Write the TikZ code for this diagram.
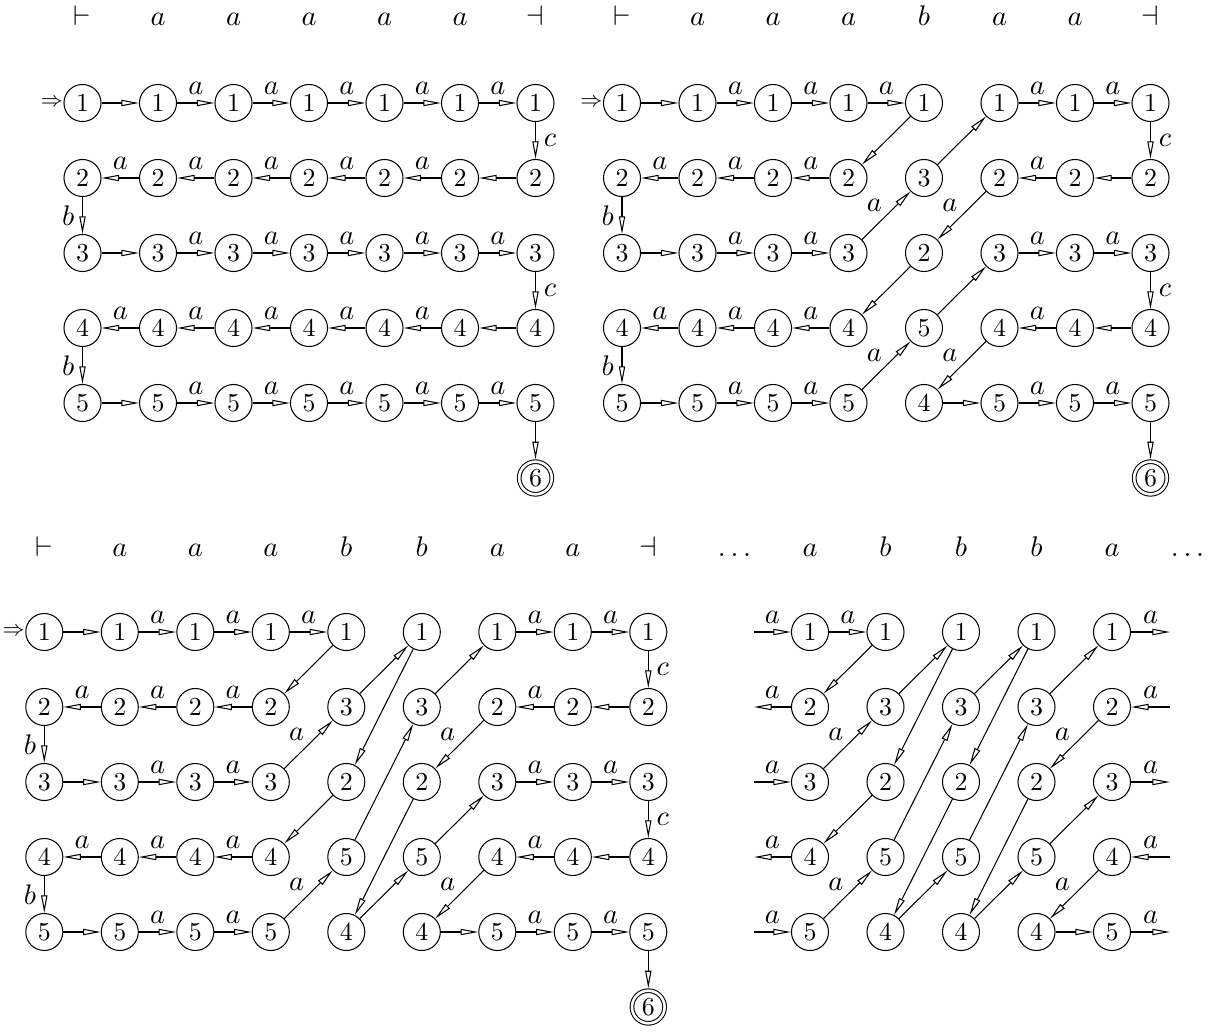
\documentclass[tikz,border=0pt]{standalone}
\usetikzlibrary{arrows.meta}
\newcommand\prow[5]{\foreach \vv [count=\k] in {#5} {\node[st] (#1-#2-\k) at ({#4+(\k-1)*75.5},#3) {$\vv$};}}
\newcommand\tline[4]{\foreach \vv [count=\k] in {#4} {\node[toplab] (#1-t\k) at ({#2+(\k-1)*75.5},#3) {$\vv$};}}
\newcommand\eN[2]{\draw[tr] (#1) -- (#2);}
\newcommand\eA[2]{\draw[tr] (#1) -- node[lab,above]{$a$} (#2);}
\newcommand\eD[2]{\draw[tr] (#1) -- node[dlab]{$a$} (#2);}
\newcommand\chR[4]{\foreach \k in {#3,...,#4} {\pgfmathtruncatemacro\jj{\k+1}\eA{#1-#2-\k}{#1-#2-\jj}}}
\newcommand\chL[4]{\foreach \k in {#3,...,#4} {\pgfmathtruncatemacro\jj{\k+1}\eA{#1-#2-\jj}{#1-#2-\k}}}
\newcommand\eV[3]{\draw[tr] (#1) -- node[lab,#3]{$#3$} (#2);}
\begin{document}
\begin{tikzpicture}[x=0.386pt, y=-0.386pt,
  st/.style={circle, draw, line width=0.4pt, minimum size=14.3pt, inner sep=0pt, font=\fontsize{10}{12}\selectfont},
  fin/.style={circle, draw, line width=0.4pt, double, double distance=1pt, minimum size=12.6pt, inner sep=0pt, outer sep=0.9pt, font=\fontsize{10}{12}\selectfont},
  tr/.style={line width=0.4pt, -{Triangle[open, length=6.8pt, width=2.4pt]}},
  lab/.style={font=\fontsize{11}{13}\selectfont, inner sep=3pt},
  dlab/.style={font=\fontsize{11}{13}\selectfont, inner sep=1.5pt, above left},
  toplab/.style={anchor=base, font=\fontsize{11}{13}\selectfont, inner sep=0pt},
  inarr/.style={anchor=east, inner sep=0pt, font=\fontsize{8}{9}\selectfont},
  c/.style={right}, b/.style={left}
]
\useasboundingbox (0,0) rectangle (1223,1035);

% ---------- top labels ----------
\tline{a}{82.5}{25}{\vdash,a,a,a,a,a,\dashv}
\tline{b}{622}{25}{\vdash,a,a,a,b,a,a,\dashv}
\tline{c}{44.3}{556}{\vdash,a,a,a,b,b,a,a,\dashv}
\tline{d}{734.5}{556}{\ldots,a,b,b,b,a,\ldots}

% ---------- panel 1 ----------
\prow{a}{1}{103}{82.5}{1,1,1,1,1,1,1}
\prow{a}{2}{178}{82.5}{2,2,2,2,2,2,2}
\prow{a}{3}{253}{82.5}{3,3,3,3,3,3,3}
\prow{a}{4}{328}{82.5}{4,4,4,4,4,4,4}
\prow{a}{5}{403}{82.5}{5,5,5,5,5,5,5}
\node[fin] (a-6) at (535.5,478) {$6$};
\node[inarr] (a-in) at (a-1-1.west) {$\Rightarrow$};
\eN{a-1-1}{a-1-2} \chR{a}{1}{2}{6}
\draw[tr] (a-1-7) -- node[lab,right]{$c$} (a-2-7);
\eN{a-2-7}{a-2-6} \chL{a}{2}{1}{5}
\draw[tr] (a-2-1) -- node[lab,left]{$b$} (a-3-1);
\eN{a-3-1}{a-3-2} \chR{a}{3}{2}{6}
\draw[tr] (a-3-7) -- node[lab,right]{$c$} (a-4-7);
\eN{a-4-7}{a-4-6} \chL{a}{4}{1}{5}
\draw[tr] (a-4-1) -- node[lab,left]{$b$} (a-5-1);
\eN{a-5-1}{a-5-2} \chR{a}{5}{2}{6}
\eN{a-5-7}{a-6}

% ---------- panel 2 ----------
\prow{b}{1}{103}{622}{1,1,1,1,1,1,1,1}
\prow{b}{2}{178}{622}{2,2,2,2,3,2,2,2}
\prow{b}{3}{253}{622}{3,3,3,3,2,3,3,3}
\prow{b}{4}{328}{622}{4,4,4,4,5,4,4,4}
\prow{b}{5}{403}{622}{5,5,5,5,4,5,5,5}
\node[fin] (b-6) at (1150.5,478) {$6$};
\node[inarr] (b-in) at (b-1-1.west) {$\Rightarrow$};
\eN{b-1-1}{b-1-2} \chR{b}{1}{2}{4} \chR{b}{1}{6}{7}
\eN{b-1-5}{b-2-4} \eN{b-2-5}{b-1-6}
\draw[tr] (b-1-8) -- node[lab,right]{$c$} (b-2-8);
\chL{b}{2}{1}{3} \eN{b-2-8}{b-2-7} \chL{b}{2}{6}{6}
\draw[tr] (b-2-1) -- node[lab,left]{$b$} (b-3-1);
\eN{b-3-1}{b-3-2} \chR{b}{3}{2}{3} \chR{b}{3}{6}{7}
\eD{b-3-4}{b-2-5} \eD{b-2-6}{b-3-5}
\eN{b-3-5}{b-4-4} \eN{b-4-5}{b-3-6}
\draw[tr] (b-3-8) -- node[lab,right]{$c$} (b-4-8);
\chL{b}{4}{1}{3} \eN{b-4-8}{b-4-7} \chL{b}{4}{6}{6}
\draw[tr] (b-4-1) -- node[lab,left]{$b$} (b-5-1);
\eN{b-5-1}{b-5-2} \chR{b}{5}{2}{3} \eN{b-5-5}{b-5-6} \chR{b}{5}{6}{7}
\eD{b-5-4}{b-4-5} \eD{b-4-6}{b-5-5}
\eN{b-5-8}{b-6}

% ---------- panel 3 ----------
\prow{c}{1}{632}{44.3}{1,1,1,1,1,1,1,1,1}
\prow{c}{2}{707}{44.3}{2,2,2,2,3,3,2,2,2}
\prow{c}{3}{782}{44.3}{3,3,3,3,2,2,3,3,3}
\prow{c}{4}{857}{44.3}{4,4,4,4,5,5,4,4,4}
\prow{c}{5}{932}{44.3}{5,5,5,5,4,4,5,5,5}
\node[fin] (c-6) at (648.3,1007) {$6$};
\node[inarr] (c-in) at (c-1-1.west) {$\Rightarrow$};
\eN{c-1-1}{c-1-2} \chR{c}{1}{2}{4} \chR{c}{1}{7}{8}
\eN{c-1-5}{c-2-4} \eN{c-2-5}{c-1-6} \eN{c-1-6}{c-3-5} \eN{c-2-6}{c-1-7}
\draw[tr] (c-1-9) -- node[lab,right]{$c$} (c-2-9);
\chL{c}{2}{1}{3} \eN{c-2-9}{c-2-8} \chL{c}{2}{7}{7}
\draw[tr] (c-2-1) -- node[lab,left]{$b$} (c-3-1);
\eN{c-3-1}{c-3-2} \chR{c}{3}{2}{3} \chR{c}{3}{7}{8}
\eD{c-3-4}{c-2-5} \eD{c-2-7}{c-3-6}
\eN{c-3-5}{c-4-4} \eN{c-4-5}{c-2-6} \eN{c-3-6}{c-5-5} \eN{c-4-6}{c-3-7}
\draw[tr] (c-3-9) -- node[lab,right]{$c$} (c-4-9);
\chL{c}{4}{1}{3} \eN{c-4-9}{c-4-8} \chL{c}{4}{7}{7}
\draw[tr] (c-4-1) -- node[lab,left]{$b$} (c-5-1);
\eN{c-5-1}{c-5-2} \chR{c}{5}{2}{3} \eN{c-5-6}{c-5-7} \chR{c}{5}{7}{8}
\eD{c-5-4}{c-4-5} \eN{c-5-5}{c-4-6} \eD{c-4-7}{c-5-6}
\eN{c-5-9}{c-6}

% ---------- panel 4 ----------
\prow{d}{1}{632}{810}{1,1,1,1,1}
\prow{d}{2}{707}{810}{2,3,3,3,2}
\prow{d}{3}{782}{810}{3,2,2,2,3}
\prow{d}{4}{857}{810}{4,5,5,5,4}
\prow{d}{5}{932}{810}{5,4,4,4,5}
\foreach \r/\yy in {1/632,2/707,3/782,4/857,5/932} {
  \coordinate (dL\r) at (754,\yy);
  \coordinate (dR\r) at (1170,\yy);
}
\eA{dL1}{d-1-1} \chR{d}{1}{1}{1}
\eN{d-1-2}{d-2-1} \eN{d-2-2}{d-1-3} \eN{d-1-3}{d-3-2}
\eN{d-2-3}{d-1-4} \eN{d-1-4}{d-3-3} \eN{d-2-4}{d-1-5}
\eA{d-1-5}{dR1}
\eA{d-2-1}{dL2} \eA{dR2}{d-2-5} \eD{d-2-5}{d-3-4}
\eA{dL3}{d-3-1} \eD{d-3-1}{d-2-2} \eN{d-3-2}{d-4-1}
\eN{d-3-3}{d-5-2} \eN{d-3-4}{d-5-3} \eA{d-3-5}{dR3}
\eA{d-4-1}{dL4} \eN{d-4-2}{d-2-3} \eN{d-4-3}{d-2-4} \eN{d-4-4}{d-3-5}
\eA{dR4}{d-4-5} \eD{d-4-5}{d-5-4}
\eA{dL5}{d-5-1} \eD{d-5-1}{d-4-2} \eN{d-5-2}{d-4-3} \eN{d-5-3}{d-4-4}
\eN{d-5-4}{d-5-5} \eA{d-5-5}{dR5}
\end{tikzpicture}
\end{document}
